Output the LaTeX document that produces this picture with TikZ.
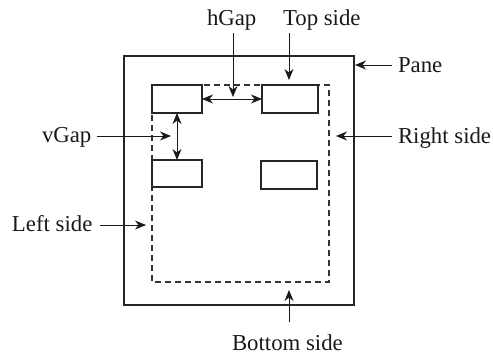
\documentclass[tikz,border=0pt]{standalone}
\usepackage{fontspec}
\setmainfont{Liberation Serif}
\usetikzlibrary{arrows.meta}
\begin{document}
\begin{tikzpicture}[x=1pt,y=-1pt,
  every node/.style={inner sep=0pt, outer sep=0pt},
  lbl/.style={font=\fontsize{22.8}{26}\selectfont, anchor=base west, text=black!90},
  box/.style={draw=black!85, line width=1.2pt, rectangle},
  pane/.style={draw=black!85, line width=1.2pt},
  dashbox/.style={draw=black!80, line width=1.1pt, dash pattern=on 6pt off 4pt},
  pointer/.style={draw=black!90, line width=1pt, -{Stealth[length=11pt,width=9pt,inset=3.5pt]}},
  gap/.style={draw=black!90, line width=1pt, {Stealth[length=11pt,width=9pt,inset=3.5pt]}-{Stealth[length=11pt,width=9pt,inset=3.5pt]}}
]
\useasboundingbox (0,0) rectangle (493,356);
% pane and dashed area
\draw[pane] (124,56) rectangle (354,305);
\draw[dashbox] (152,85) rectangle (329,282);
% components
\node[box, minimum width=50pt, minimum height=28pt] (b1) at (177,99) {};
\node[box, minimum width=56pt, minimum height=28pt] (b2) at (290,99) {};
\node[box, minimum width=50pt, minimum height=27pt] (b3) at (177,173.5) {};
\node[box, minimum width=56pt, minimum height=28pt] (b4) at (289,175) {};
% gaps
\draw[gap] (b1.east) -- (b2.west);
\draw[gap] (b1.south) -- (b3.north);
% labels
\node[lbl] (hgap) at (207,25) {hGap};
\node[lbl] (top) at (283,25) {Top side};
\node[lbl] (pn) at (398,72) {Pane};
\node[lbl] (rs) at (398,143) {Right side};
\node[lbl] (vg) at (42,142) {vGap};
\node[lbl] (ls) at (12,231) {Left side};
\node[lbl] (bs) at (232,350) {Bottom side};
% pointer coordinates
\coordinate (hgapT) at (233,33);  \coordinate (hgapH) at (233,97);
\coordinate (topT) at (289,33);   \coordinate (topH) at (289,80);
\coordinate (pnT) at (392,65);    \coordinate (pnH) at (355,65);
\coordinate (rsT) at (392,136);   \coordinate (rsH) at (336,136);
\coordinate (vgT) at (97,136);    \coordinate (vgH) at (171,136);
\coordinate (lsT) at (100,225);   \coordinate (lsH) at (146,225);
\coordinate (bsT) at (289,322);   \coordinate (bsH) at (289,290);
\draw[pointer] (hgapT) -- (hgapH);
\draw[pointer] (topT) -- (topH);
\draw[pointer] (pnT) -- (pnH);
\draw[pointer] (rsT) -- (rsH);
\draw[pointer] (vgT) -- (vgH);
\draw[pointer] (lsT) -- (lsH);
\draw[pointer] (bsT) -- (bsH);
\end{tikzpicture}
\end{document}
